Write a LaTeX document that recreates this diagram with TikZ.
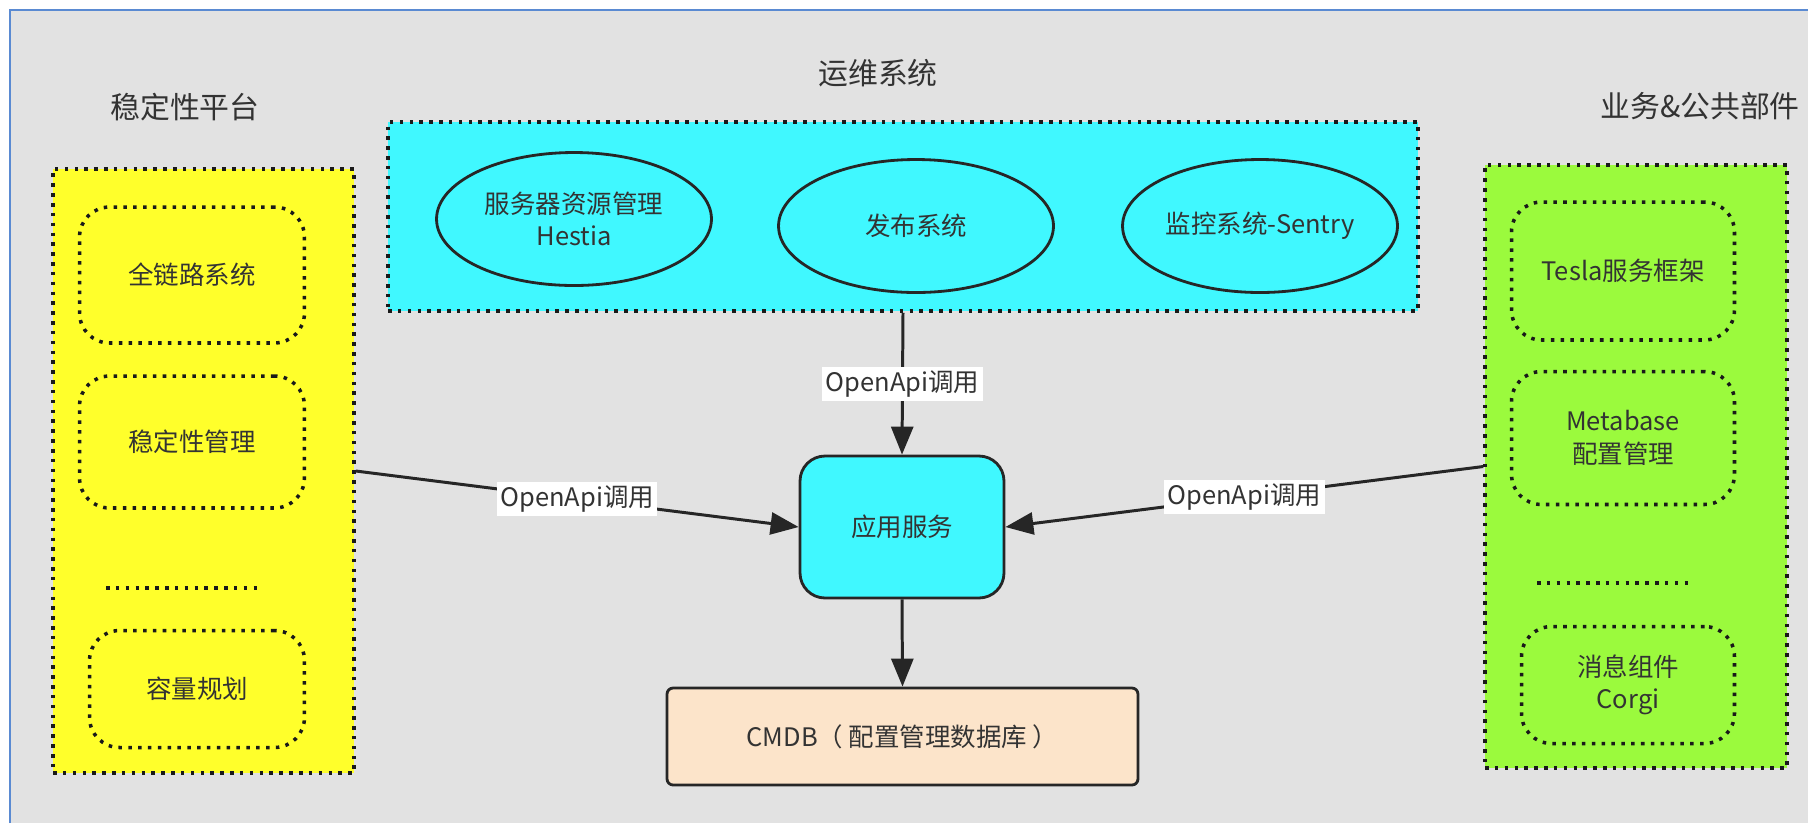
\documentclass[tikz,border=0pt]{standalone}
\usepackage{fontspec}
\setmainfont{Noto Sans CJK SC}
\usetikzlibrary{shapes.geometric,arrows.meta}

\definecolor{bg}{HTML}{E2E2E2}
\definecolor{frameblue}{HTML}{5A8AD2}
\definecolor{stabyellow}{HTML}{FFFF2B}
\definecolor{opscyan}{HTML}{40F8FF}
\definecolor{bizgreen}{HTML}{9BFA3D}
\definecolor{dbpeach}{HTML}{FCE4CA}
\definecolor{txt}{HTML}{333333}

\newcommand\bodyfont{\fontsize{14.5pt}{18.5pt}\selectfont}
\newcommand\titlefont{\fontsize{17pt}{20pt}\selectfont}

\begin{document}
\begin{tikzpicture}[x=0.02cm,y=-0.02cm]
\tikzstyle{panel}=[draw=black!90,line width=2pt,dash pattern=on 2pt off 3.6pt,inner sep=0pt]
\tikzstyle{part}=[panel,rounded corners=0.6cm,align=center,font=\bodyfont,text=txt]
\tikzstyle{sys}=[ellipse,draw=black!85,line width=1.6pt,minimum width=5.5cm,minimum height=2.66cm,align=center,font=\bodyfont,text=txt,inner sep=0pt]
\tikzstyle{call}=[-{Triangle[length=0.56cm,width=0.44cm]},line width=1.7pt,draw=black!85]
\tikzstyle{apilabel}=[fill=white,inner sep=2pt,font=\bodyfont,text=txt]
\tikzstyle{title}=[font=\titlefont,text=txt]
% ========= frame
\useasboundingbox (0,0) rectangle (1808,823);
\fill[white] (0,0) rectangle (1808,823);
\fill[bg] (10,10) rectangle (1808,823);
\draw[frameblue,line width=1.5pt] (10,823) -- (10,10) -- (1808,10);

% ========= panels
\node (stab) at (203.5,471) [panel,fill=stabyellow,minimum width=6.02cm,minimum height=12.08cm] {};
\node (ops) at (903,216.5) [panel,fill=opscyan,minimum width=20.6cm,minimum height=3.78cm] {};
\node (biz) at (1636,466.5) [panel,fill=bizgreen,minimum width=6.04cm,minimum height=12.06cm] {};

\node (stabtitle) at (185,107) [title] {稳定性平台};
\node (opstitle) at (878,73) [title] {运维系统};
\node (biztitle) at (1700,106) [title] {业务\&公共部件};

% ========= left parts
\node (trace) at (192,275) [part,minimum width=4.5cm,minimum height=2.72cm] {全链路系统};
\node (stabmgr) at (192,442) [part,minimum width=4.5cm,minimum height=2.64cm] {稳定性管理};
\draw [panel] (106,588) -- (257,588);
\node (capacity) at (197,689) [part,minimum width=4.3cm,minimum height=2.34cm] {容量规划};

% ========= ops systems
\node (hestia) at (574,219) [sys] {服务器资源管理\\Hestia};
\node (release) at (916,226) [sys] {发布系统};
\node (sentry) at (1260,226) [sys] {监控系统-Sentry};

% ========= right parts
\node (tesla) at (1623,271) [part,minimum width=4.46cm,minimum height=2.76cm] {Tesla服务框架};
\node (metabase) at (1623,438) [part,minimum width=4.46cm,minimum height=2.66cm] {Metabase\\配置管理};
\draw [panel] (1537,583) -- (1688,583);
\node (corgi) at (1628,685) [part,minimum width=4.26cm,minimum height=2.34cm] {消息组件\\Corgi};

% ========= core
\node (app) at (902,527) [draw=black!85,line width=1.6pt,fill=opscyan,rounded corners=0.5cm,minimum width=4.08cm,minimum height=2.84cm,font=\bodyfont,text=txt] {应用服务};
\node (cmdb) at (902.5,736.5) [draw=black!85,line width=1.6pt,fill=dbpeach,rounded corners=0.12cm,minimum width=9.42cm,minimum height=1.94cm,font=\bodyfont,text=txt] {CMDB（ 配置管理数据库 ）};

% ====== connections
\draw [call] (ops.south) -- node [apilabel] {OpenApi调用} (app.north);
\draw [call] (stab.east) -- node [apilabel] {OpenApi调用} (app.west);
\draw [call] (biz.west) -- node [apilabel] {OpenApi调用} (app.east);
\draw [call] (app.south) -- (cmdb.north);
\end{tikzpicture}
\end{document}
